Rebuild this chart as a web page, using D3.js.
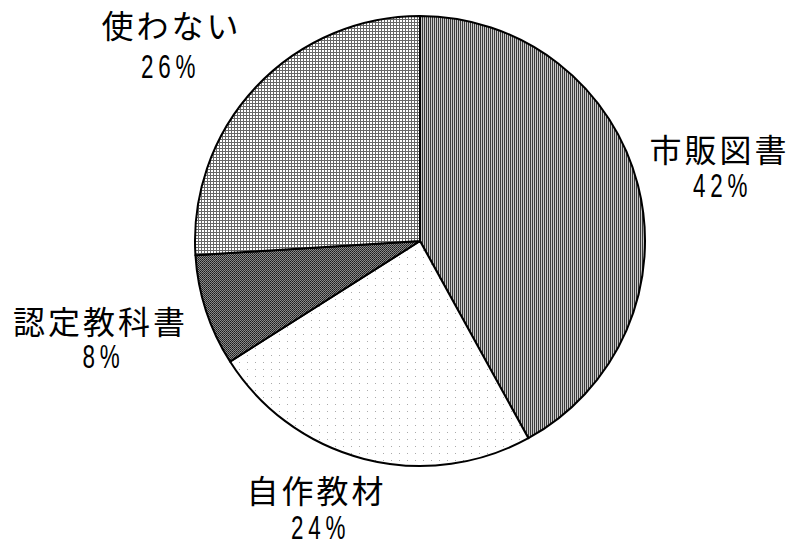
<!DOCTYPE html>
<html>
<head>
<meta charset="utf-8">
<script src="https://cdn.jsdelivr.net/npm/d3@7"></script>
<style>
  html, body { margin: 0; padding: 0; background: #fff; }
  svg { display: block; }
  .lbl { font-family: "Noto Sans CJK JP", sans-serif; font-size: 32px; fill: #000; }
  .pct { font-family: "Liberation Sans", sans-serif; font-size: 33px; fill: #000; }
</style>
</head>
<body>
<svg id="chart" width="793" height="542"></svg>
<script>
// slices, clockwise from 12 o'clock
const categories = ["市販図書", "自作教材", "認定教科書", "使わない"];
const values = [42, 24, 8, 26];
const pctLabels = ["42%", "24%", "8%", "26%"];

const width = 793, height = 542;
const cx = 420, cy = 241, radius = 225;

const svg = d3.select("#chart");
const defs = svg.append("defs");

// fill patterns, one per slice
function pattern(id, w, h, bg, draw) {
  const p = defs.append("pattern")
    .attr("id", id)
    .attr("patternUnits", "userSpaceOnUse")
    .attr("width", w)
    .attr("height", h);
  p.append("rect").attr("width", w).attr("height", h).attr("fill", bg);
  draw(p);
}

pattern("p0", 2, 2, "#c8c8c8", p => {
  p.append("rect").attr("x", 0).attr("y", 0).attr("width", 1).attr("height", 2).attr("fill", "#3a3a3a");
});
pattern("p1", 8, 7, "#fff", p => {
  p.append("rect").attr("x", 3).attr("y", 2).attr("width", 1).attr("height", 1).attr("fill", "#aaa");
});
pattern("p2", 2, 2, "#8a8a8a", p => {
  p.append("rect").attr("x", 0).attr("y", 0).attr("width", 1).attr("height", 1).attr("fill", "#1a1a1a");
  p.append("rect").attr("x", 1).attr("y", 1).attr("width", 1).attr("height", 1).attr("fill", "#333");
});
pattern("p3", 3, 3, "#fff", p => {
  p.append("rect").attr("x", 0).attr("y", 0).attr("width", 3).attr("height", 1).attr("fill", "#666");
  p.append("rect").attr("x", 0).attr("y", 0).attr("width", 1).attr("height", 3).attr("fill", "#666");
});

const pie = d3.pie().sort(null).value(d => d);
const arc = d3.arc().innerRadius(0).outerRadius(radius);
const arcs = pie(values);

const g = svg.append("g").attr("transform", `translate(${cx},${cy})`);

g.selectAll("path")
  .data(arcs)
  .join("path")
  .attr("d", arc)
  .attr("fill", (d, i) => `url(#p${i})`)
  .attr("stroke", "#000")
  .attr("stroke-width", 2)
  .attr("stroke-linejoin", "round");

// label anchors (page coords), same order as categories: [x, name baseline, pct x, pct baseline]
const labelAt = [[718, 162, 720, 197], [315, 503, 318, 539], [99, 334, 101, 368], [170, 38, 168, 78]];
const spacing = 3;

const labels = svg.append("g")
  .selectAll("g")
  .data(categories)
  .join("g");

labels.append("text")
  .attr("class", "lbl")
  .attr("text-anchor", "middle")
  .attr("x", (d, i) => labelAt[i][0] + spacing / 2)
  .attr("y", (d, i) => labelAt[i][1])
  .style("letter-spacing", spacing + "px")
  .text(d => d);

labels.append("text")
  .attr("class", "pct")
  .attr("text-anchor", "middle")
  .attr("transform", (d, i) => `translate(${labelAt[i][2] + 2.5},${labelAt[i][3]}) scale(0.68,1)`)
  .style("letter-spacing", "7px")
  .text((d, i) => pctLabels[i]);
</script>
</body>
</html>
